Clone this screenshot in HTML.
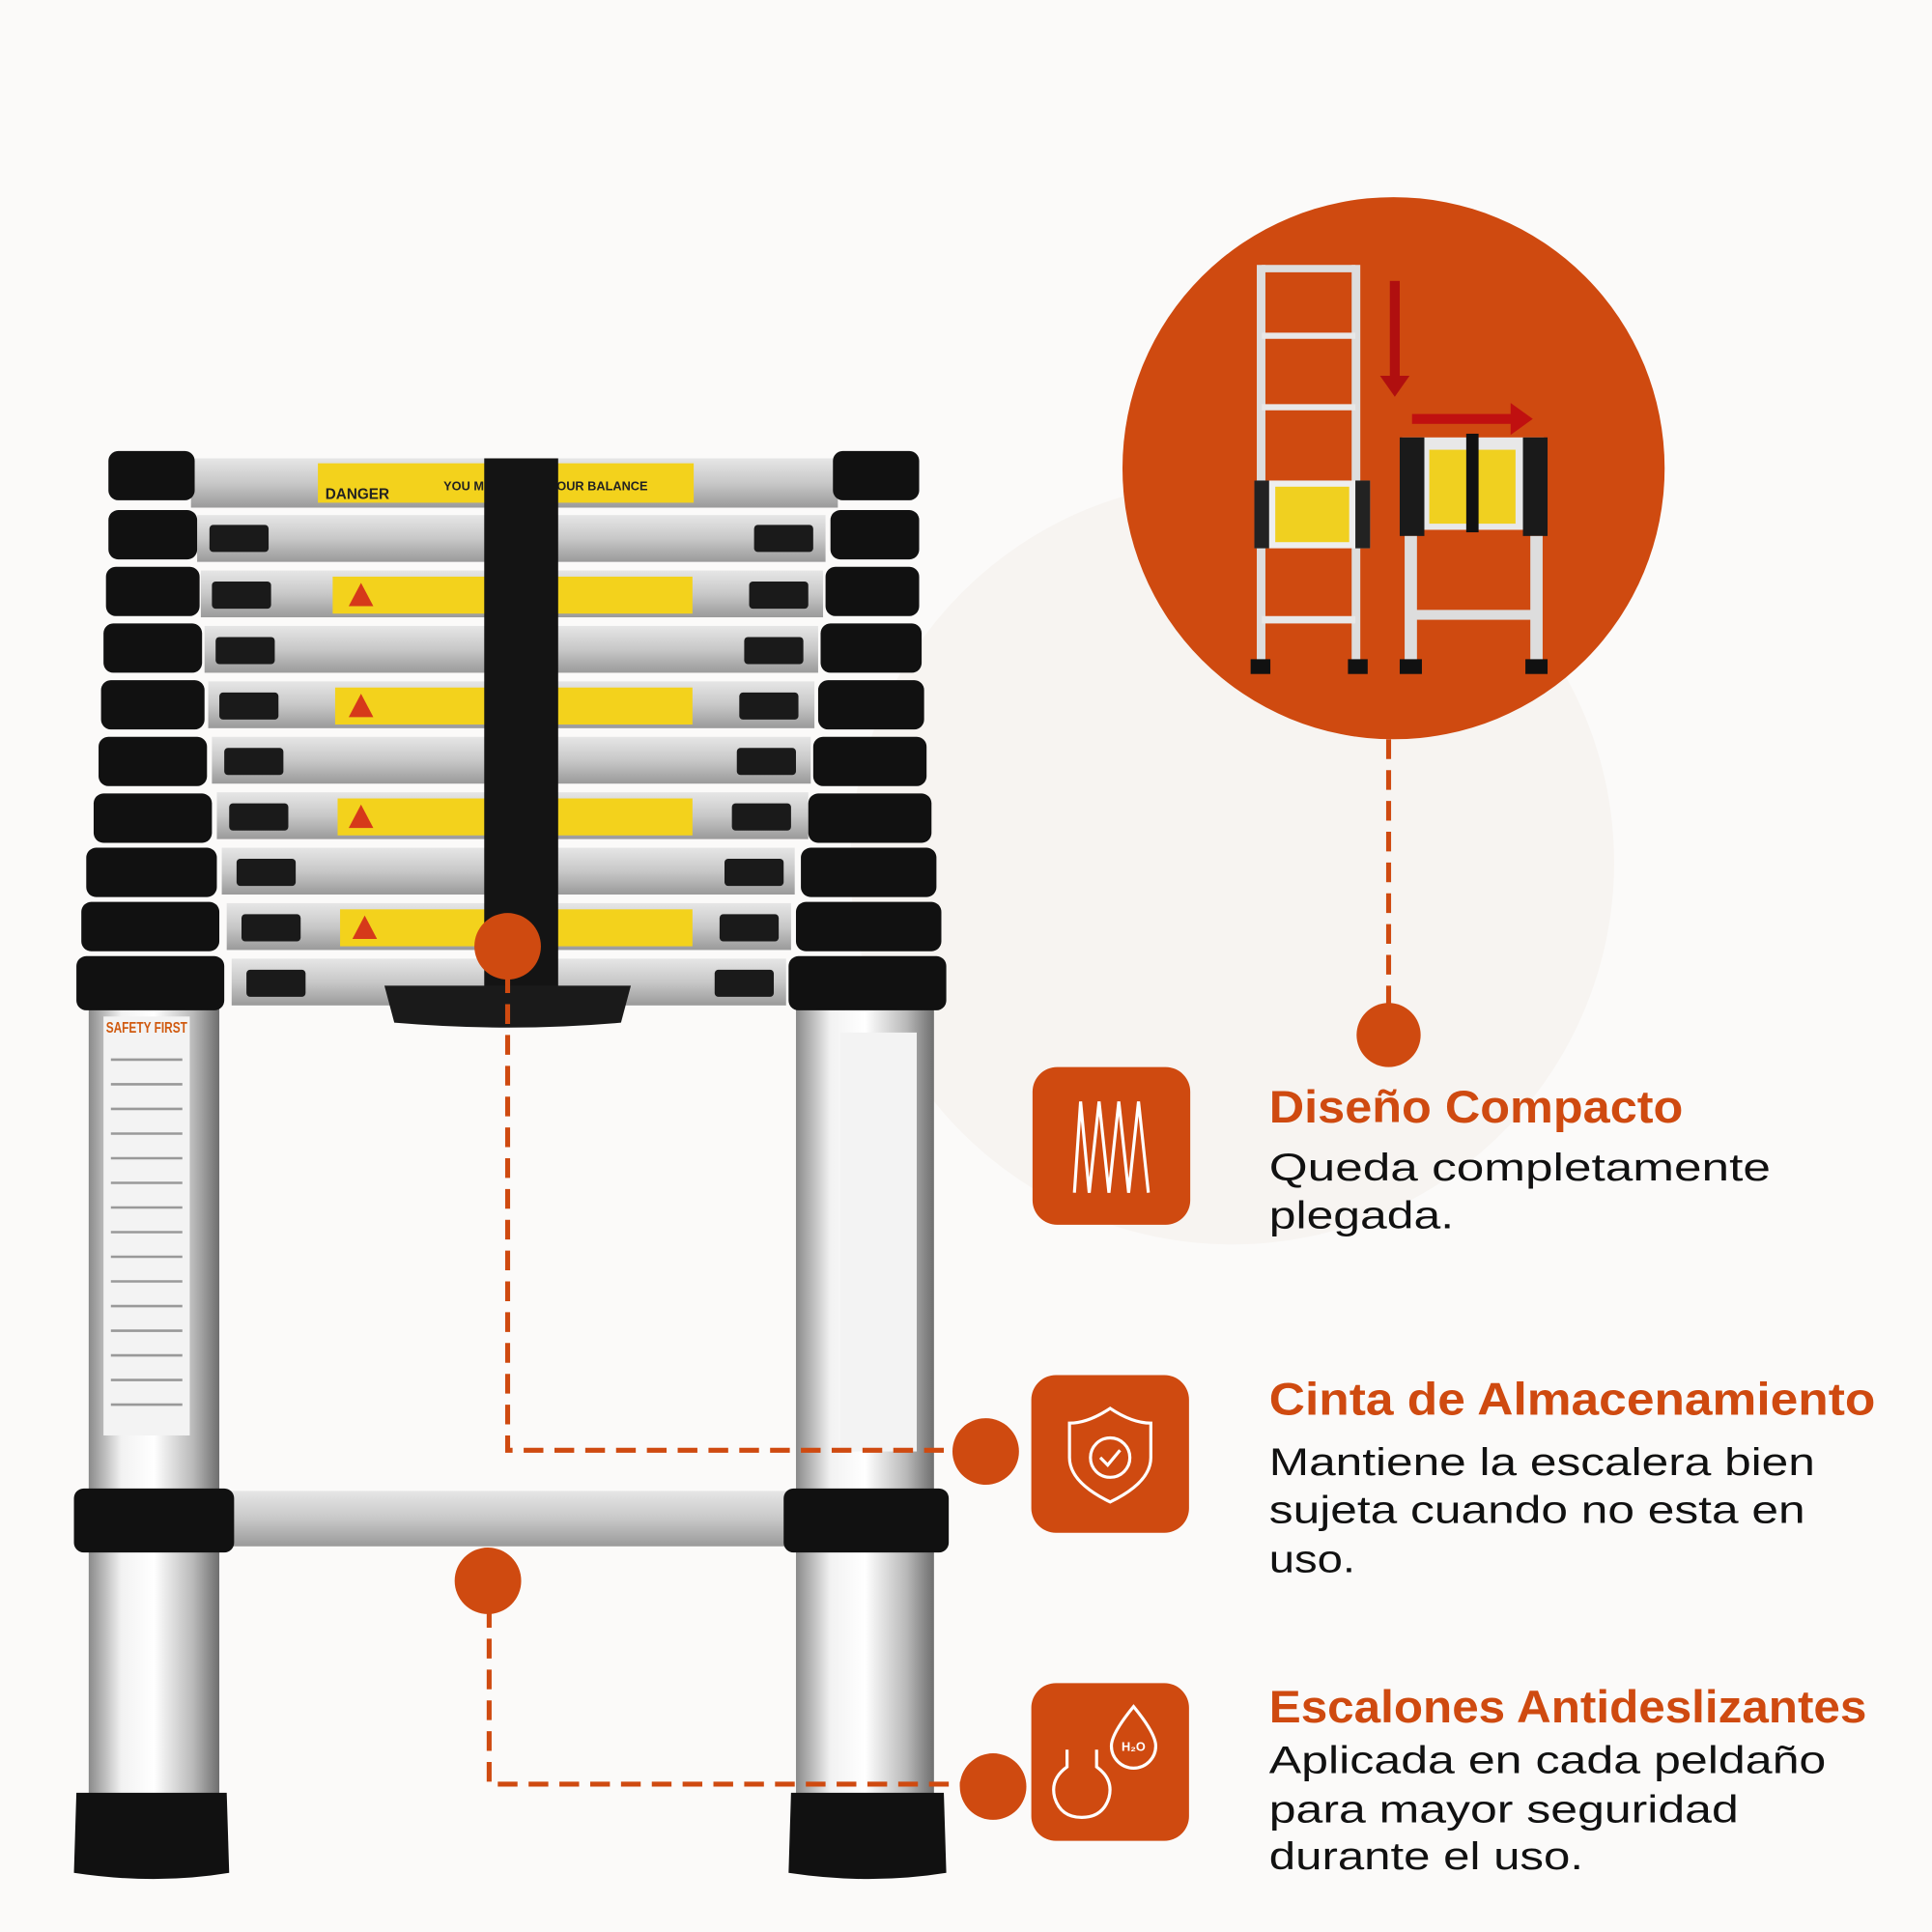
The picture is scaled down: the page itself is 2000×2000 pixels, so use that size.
<!DOCTYPE html>
<html><head><meta charset="utf-8"><style>
html,body{margin:0;padding:0;background:#fbfaf9;}
svg{display:block;}
</style></head><body>
<svg width="2000" height="2000" viewBox="0 0 1568 1568" xmlns="http://www.w3.org/2000/svg">
<defs>
<linearGradient id="tube" x1="0" x2="1" y1="0" y2="0">
<stop offset="0" stop-color="#8a8a8a"/><stop offset="0.25" stop-color="#f2f2f2"/><stop offset="0.5" stop-color="#ffffff"/><stop offset="0.8" stop-color="#b9b9b9"/><stop offset="1" stop-color="#6e6e6e"/>
</linearGradient>
<linearGradient id="rung" x1="0" x2="0" y1="0" y2="1">
<stop offset="0" stop-color="#e6e6e6"/><stop offset="0.5" stop-color="#c8c8c8"/><stop offset="1" stop-color="#9a9a9a"/>
</linearGradient>
</defs>
<rect width="1568" height="1568" fill="#fbfaf9"/>
<circle cx="1000" cy="700" r="310" fill="#f7f4f1"/>

<rect x="72" y="810" width="106" height="660" fill="url(#tube)"/>
<rect x="646" y="810" width="112" height="660" fill="url(#tube)"/>
<rect x="84" y="825" width="70" height="340" fill="#f3f3f3"/>
<text x="86" y="838" font-family="Liberation Sans, sans-serif" font-size="12" font-weight="bold" fill="#d05a10" textLength="66" lengthAdjust="spacingAndGlyphs">SAFETY FIRST</text>
<g stroke="#999" stroke-width="2">
<line x1="90" y1="860" x2="148" y2="860"/><line x1="90" y1="880" x2="148" y2="880"/><line x1="90" y1="900" x2="148" y2="900"/><line x1="90" y1="920" x2="148" y2="920"/><line x1="90" y1="940" x2="148" y2="940"/><line x1="90" y1="960" x2="148" y2="960"/><line x1="90" y1="980" x2="148" y2="980"/><line x1="90" y1="1000" x2="148" y2="1000"/><line x1="90" y1="1020" x2="148" y2="1020"/><line x1="90" y1="1040" x2="148" y2="1040"/><line x1="90" y1="1060" x2="148" y2="1060"/><line x1="90" y1="1080" x2="148" y2="1080"/><line x1="90" y1="1100" x2="148" y2="1100"/><line x1="90" y1="1120" x2="148" y2="1120"/><line x1="90" y1="1140" x2="148" y2="1140"/>
</g>
<rect x="682" y="838" width="62" height="340" fill="#f3f3f3"/>
<rect x="185" y="1210" width="455" height="45" fill="url(#rung)"/>
<rect x="60" y="1208" width="130" height="52" rx="8" fill="#111"/>
<rect x="636" y="1208" width="134" height="52" rx="8" fill="#111"/>
<path d="M62 1455 h122 l2 65 q-60 10 -126 0 z" fill="#111"/>
<path d="M642 1455 h124 l2 65 q-62 10 -128 0 z" fill="#111"/>

<g>
<rect x="155" y="372" width="525" height="40" fill="url(#rung)"/>
<rect x="258" y="376" width="305" height="32" fill="#f3d21c"/>
<text x="264" y="405" font-family="Liberation Sans, sans-serif" font-size="12" font-weight="bold" fill="#222">DANGER</text>
<text x="360" y="398" font-family="Liberation Sans, sans-serif" font-size="10" font-weight="bold" fill="#222">YOU MUST KEEP YOUR BALANCE</text>
</g>
<g fill="url(#rung)">
<rect x="160" y="418" width="510" height="38"/>
<rect x="163" y="463" width="505" height="38"/>
<rect x="166" y="508" width="498" height="38"/>
<rect x="169" y="553" width="492" height="38"/>
<rect x="172" y="598" width="486" height="38"/>
<rect x="176" y="643" width="480" height="38"/>
<rect x="180" y="688" width="465" height="38"/>
<rect x="184" y="733" width="458" height="38"/>
<rect x="188" y="778" width="450" height="38"/>
</g>
<g fill="#f3d21c">
<rect x="270" y="468" width="292" height="30"/>
<rect x="272" y="558" width="290" height="30"/>
<rect x="274" y="648" width="288" height="30"/>
<rect x="276" y="738" width="286" height="30"/>
</g>
<g fill="#d6391a">
<polygon points="293,473 283,492 303,492"/><polygon points="293,563 283,582 303,582"/><polygon points="293,653 283,672 303,672"/><polygon points="296,743 286,762 306,762"/>
</g>
<g fill="#1a1a1a">
<rect x="170" y="426" width="48" height="22" rx="3"/><rect x="612" y="426" width="48" height="22" rx="3"/>
<rect x="172" y="472" width="48" height="22" rx="3"/><rect x="608" y="472" width="48" height="22" rx="3"/>
<rect x="175" y="517" width="48" height="22" rx="3"/><rect x="604" y="517" width="48" height="22" rx="3"/>
<rect x="178" y="562" width="48" height="22" rx="3"/><rect x="600" y="562" width="48" height="22" rx="3"/>
<rect x="182" y="607" width="48" height="22" rx="3"/><rect x="598" y="607" width="48" height="22" rx="3"/>
<rect x="186" y="652" width="48" height="22" rx="3"/><rect x="594" y="652" width="48" height="22" rx="3"/>
<rect x="192" y="697" width="48" height="22" rx="3"/><rect x="588" y="697" width="48" height="22" rx="3"/>
<rect x="196" y="742" width="48" height="22" rx="3"/><rect x="584" y="742" width="48" height="22" rx="3"/>
<rect x="200" y="787" width="48" height="22" rx="3"/><rect x="580" y="787" width="48" height="22" rx="3"/>
</g>
<g fill="#111">
<rect x="88" y="366" width="70" height="40" rx="8"/>
<rect x="88" y="414" width="72" height="40" rx="8"/>
<rect x="86" y="460" width="76" height="40" rx="8"/>
<rect x="84" y="506" width="80" height="40" rx="8"/>
<rect x="82" y="552" width="84" height="40" rx="8"/>
<rect x="80" y="598" width="88" height="40" rx="8"/>
<rect x="76" y="644" width="96" height="40" rx="8"/>
<rect x="70" y="688" width="106" height="40" rx="8"/>
<rect x="66" y="732" width="112" height="40" rx="8"/>
<rect x="62" y="776" width="120" height="44" rx="8"/>
<rect x="676" y="366" width="70" height="40" rx="8"/>
<rect x="674" y="414" width="72" height="40" rx="8"/>
<rect x="670" y="460" width="76" height="40" rx="8"/>
<rect x="666" y="506" width="82" height="40" rx="8"/>
<rect x="664" y="552" width="86" height="40" rx="8"/>
<rect x="660" y="598" width="92" height="40" rx="8"/>
<rect x="656" y="644" width="100" height="40" rx="8"/>
<rect x="650" y="688" width="110" height="40" rx="8"/>
<rect x="646" y="732" width="118" height="40" rx="8"/>
<rect x="640" y="776" width="128" height="44" rx="8"/>
</g>
<rect x="393" y="372" width="60" height="430" fill="#141414"/>
<path d="M312 800 h200 l-8 30 q-90 8 -184 0 z" fill="#1a1a1a"/>

<g stroke="#cf4a10" stroke-width="4" fill="none" stroke-dasharray="16 9">
<line x1="1127" y1="600" x2="1127" y2="815"/>
<polyline points="412,790 412,1177 790,1177"/>
<polyline points="397,1305 397,1448 795,1448"/>
</g>
<g fill="#cf4a10">
<circle cx="1127" cy="840" r="26"/>
<circle cx="412" cy="768" r="27"/>
<circle cx="800" cy="1178" r="27"/>
<circle cx="396" cy="1283" r="27"/>
<circle cx="806" cy="1450" r="27"/>
</g>

<circle cx="1131" cy="380" r="220" fill="#cf4a10"/>
<g>
<rect x="1020" y="215" width="7" height="330" fill="#ddd"/>
<rect x="1097" y="215" width="7" height="330" fill="#ddd"/>
<rect x="1024" y="215" width="76" height="6" fill="#ddd"/>
<rect x="1024" y="270" width="76" height="5" fill="#e8e8e8"/>
<rect x="1024" y="328" width="76" height="5" fill="#e8e8e8"/>
<rect x="1018" y="390" width="94" height="55" fill="#eee"/>
<rect x="1035" y="395" width="60" height="45" fill="#f0d020"/>
<rect x="1018" y="390" width="12" height="55" fill="#222"/>
<rect x="1100" y="390" width="12" height="55" fill="#222"/>
<rect x="1024" y="500" width="76" height="6" fill="#e8e8e8"/>
<rect x="1015" y="535" width="16" height="12" fill="#111"/>
<rect x="1094" y="535" width="16" height="12" fill="#111"/>
<rect x="1138" y="355" width="115" height="75" fill="#e8e8e8"/>
<rect x="1160" y="365" width="70" height="60" fill="#f0d020"/>
<rect x="1136" y="355" width="20" height="80" fill="#1a1a1a"/>
<rect x="1236" y="355" width="20" height="80" fill="#1a1a1a"/>
<rect x="1190" y="352" width="10" height="80" fill="#111"/>
<rect x="1140" y="435" width="10" height="105" fill="#ddd"/>
<rect x="1242" y="435" width="10" height="105" fill="#ddd"/>
<rect x="1148" y="495" width="95" height="8" fill="#ddd"/>
<rect x="1136" y="535" width="18" height="12" fill="#111"/>
<rect x="1238" y="535" width="18" height="12" fill="#111"/>
<rect x="1128" y="228" width="8" height="85" fill="#b00f0f"/>
<polygon points="1120,305 1144,305 1132,322" fill="#b00f0f"/>
<rect x="1146" y="336" width="82" height="8" fill="#c01010"/>
<polygon points="1226,327 1244,340 1226,353" fill="#c01010"/>
</g>

<g fill="#cf4a10">
<rect x="838" y="866" width="128" height="128" rx="20"/>
<rect x="837" y="1116" width="128" height="128" rx="20"/>
<rect x="837" y="1366" width="128" height="128" rx="20"/>
</g>
<g stroke="#fff" stroke-width="2.5" fill="none">
<polyline points="872,968 877,894 884,968 892,894 900,968 908,894 916,968 924,894 932,968"/>
<path d="M901 1143 q18 12 33 12 v28 q0 20 -33 36 q-33 -16 -33 -36 v-28 q15 0 33 -12 z"/>
<circle cx="901" cy="1183" r="16"/>
<polyline points="893,1183 899,1189 909,1177"/>
<path d="M866 1420 v14 q-14 10 -10 25 q5 16 22 16 q17 0 22 -16 q4 -15 -10 -25 v-14"/>
<path d="M920 1385 q-18 22 -18 32 a18 18 0 0 0 36 0 q0 -10 -18 -32 z"/>
</g>
<text x="920" y="1421" font-family="Liberation Sans, sans-serif" font-size="10" font-weight="bold" fill="#fff" text-anchor="middle">H₂O</text>

<g font-family="Liberation Sans, sans-serif" lengthAdjust="spacingAndGlyphs">
<text x="1030" y="911" font-size="37" font-weight="bold" fill="#cf4a10" textLength="336" lengthAdjust="spacingAndGlyphs">Diseño Compacto</text>
<text x="1030" y="958" font-size="31" fill="#111" textLength="407" lengthAdjust="spacingAndGlyphs">Queda completamente</text>
<text x="1030" y="997" font-size="31" fill="#111" textLength="150" lengthAdjust="spacingAndGlyphs">plegada.</text>
<text x="1030" y="1148" font-size="37" font-weight="bold" fill="#cf4a10" textLength="492" lengthAdjust="spacingAndGlyphs">Cinta de Almacenamiento</text>
<text x="1030" y="1197" font-size="31" fill="#111" textLength="443" lengthAdjust="spacingAndGlyphs">Mantiene la escalera bien</text>
<text x="1030" y="1236" font-size="31" fill="#111" textLength="435" lengthAdjust="spacingAndGlyphs">sujeta cuando no esta en</text>
<text x="1030" y="1276" font-size="31" fill="#111" textLength="70" lengthAdjust="spacingAndGlyphs">uso.</text>
<text x="1030" y="1398" font-size="37" font-weight="bold" fill="#cf4a10" textLength="485" lengthAdjust="spacingAndGlyphs">Escalones Antideslizantes</text>
<text x="1030" y="1439" font-size="31" fill="#111" textLength="452" lengthAdjust="spacingAndGlyphs">Aplicada en cada peldaño</text>
<text x="1030" y="1479" font-size="31" fill="#111" textLength="381" lengthAdjust="spacingAndGlyphs">para mayor seguridad</text>
<text x="1030" y="1517" font-size="31" fill="#111" textLength="255" lengthAdjust="spacingAndGlyphs">durante el uso.</text>
</g>
</svg>
</body></html>
